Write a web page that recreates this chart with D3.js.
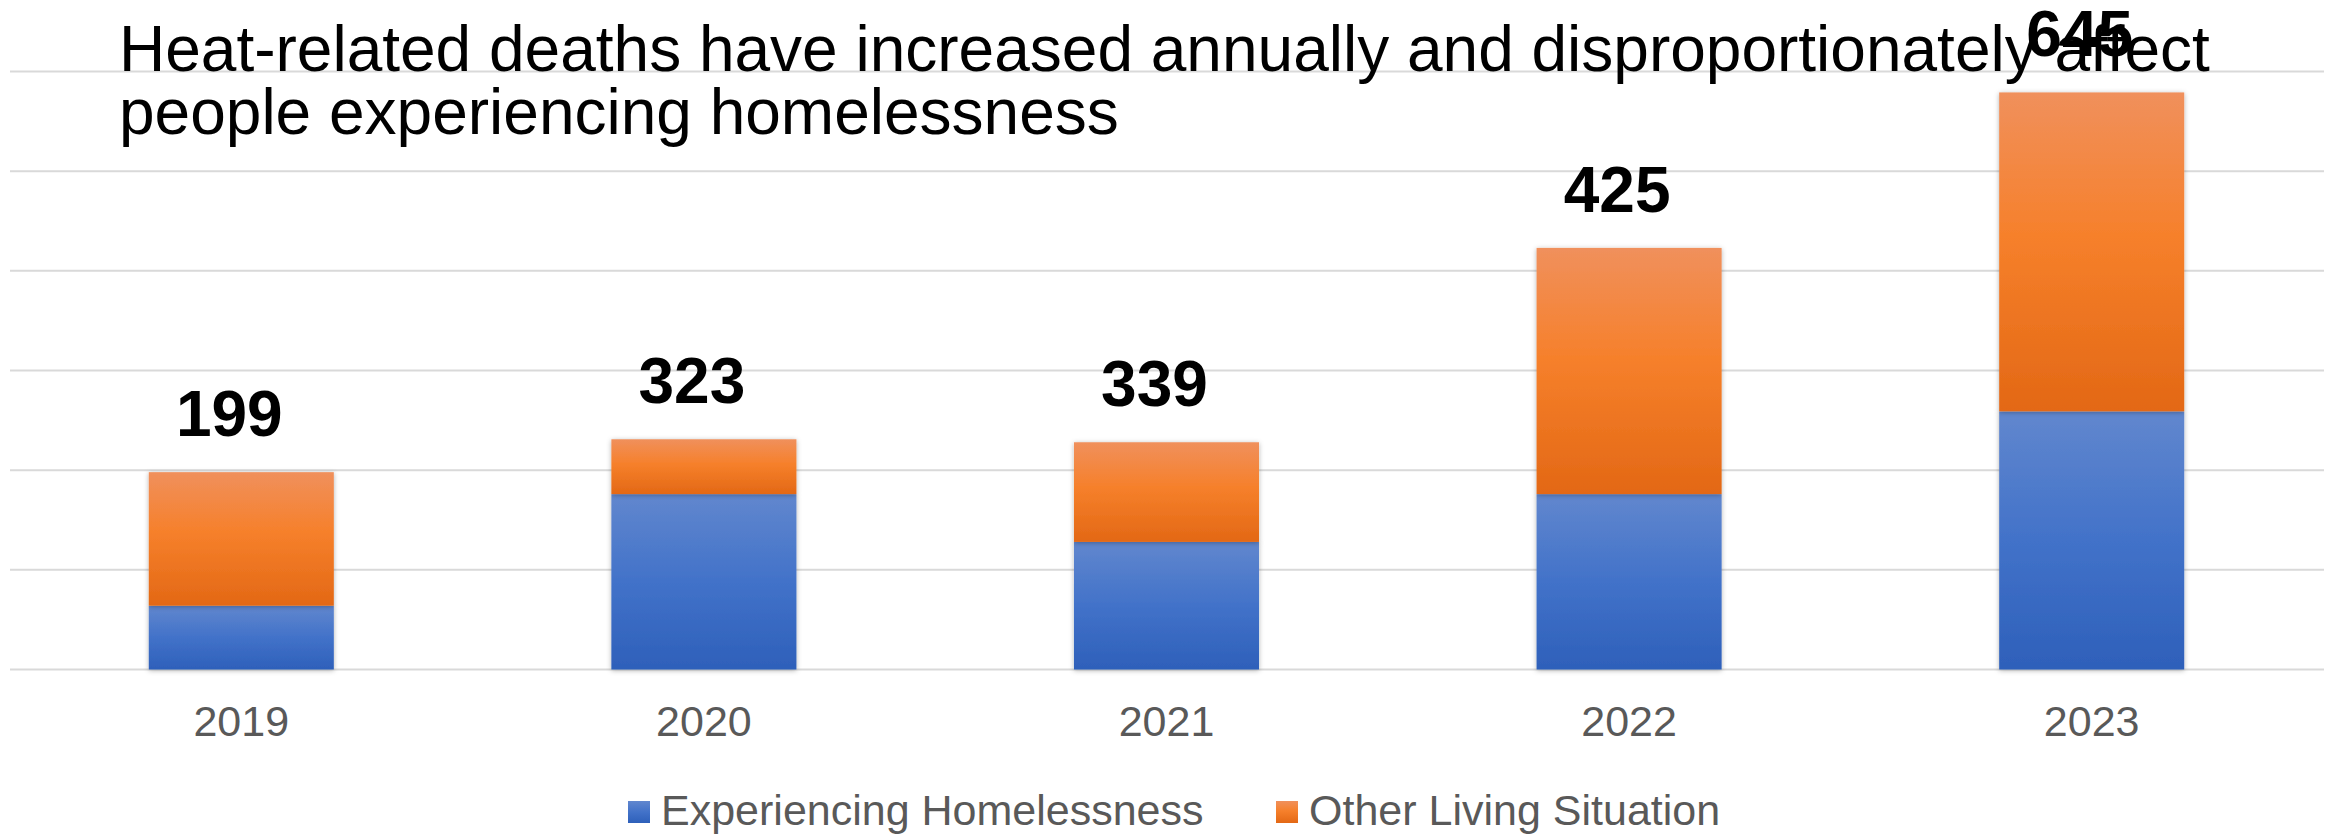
<!DOCTYPE html>
<html>
<head>
<meta charset="utf-8">
<script src="https://cdn.jsdelivr.net/npm/d3@7"></script>
<style>
  body { margin: 0; background: #fff; }
  svg { display: block; font-family: "Liberation Sans", Arial, sans-serif; }
</style>
</head>
<body>
<svg id="chart" width="2336" height="834"></svg>
<script>
// values
const years = ['2019', '2020', '2021', '2022', '2023'];
const homeless = [64, 176, 128, 176, 259];
const other = [134, 55, 100, 247, 320];
const totalLabels = ['199', '323', '339', '425', '645'];
const yTicks = [0, 100, 200, 300, 400, 500, 600];
const seriesNames = ['Experiencing Homelessness', 'Other Living Situation'];
const titleLines = [
  'Heat-related deaths have increased annually and disproportionately affect',
  'people experiencing homelessness'
];

const svg = d3.select('#chart');

const x = d3.scaleBand().domain(years).range([10, 2323]).paddingInner(0.6).paddingOuter(0.3);
const y = d3.scaleLinear().domain([0, 600]).range([669.5, 71.5]);

const defs = svg.append('defs');

// per-segment vertical gradients, like the office chart fill
const grads = {
  homeless: [['0%', '#6187ce'], ['50%', '#4272c9'], ['100%', '#2e60ba']],
  other: [['0%', '#f0905c'], ['45%', '#f6802b'], ['100%', '#e36815']]
};
Object.entries(grads).forEach(([key, stops]) => {
  const g = defs.append('linearGradient').attr('id', 'grad-' + key)
    .attr('x1', 0).attr('y1', 0).attr('x2', 0).attr('y2', 1);
  stops.forEach(s => g.append('stop').attr('offset', s[0]).attr('stop-color', s[1]));
});

defs.append('filter').attr('id', 'shadow').attr('x', '-10%').attr('y', '-10%').attr('width', '120%').attr('height', '120%')
  .append('feDropShadow').attr('dx', 0).attr('dy', 1).attr('stdDeviation', 2.5)
  .attr('flood-color', '#000').attr('flood-opacity', 0.3);

// gridlines
svg.append('g').selectAll('line').data(yTicks).enter().append('line')
  .attr('x1', 10).attr('x2', 2324)
  .attr('y1', d => y(d)).attr('y2', d => y(d))
  .attr('stroke', '#d9d9d9').attr('stroke-width', 2);

// stacked bars
const table = years.map((yr, i) => ({ year: yr, homeless: homeless[i], other: other[i] }));
const stacked = d3.stack().keys(['homeless', 'other'])(table);

svg.append('g').selectAll('g').data(stacked).enter().append('g')
  .attr('fill', d => `url(#grad-${d.key})`)
  .selectAll('rect').data(d => d).enter().append('rect')
  .attr('x', d => x(d.data.year))
  .attr('width', x.bandwidth())
  .attr('y', d => y(d[1]))
  .attr('height', d => y(d[0]) - y(d[1]))
  .attr('filter', 'url(#shadow)');

// x axis labels
svg.append('g').selectAll('text').data(years).enter().append('text')
  .attr('x', d => x(d) + x.bandwidth() / 2)
  .attr('y', 736)
  .attr('text-anchor', 'middle')
  .style('font-size', '43px')
  .style('fill', '#595959')
  .text(d => d);

// title
const title = svg.append('text').style('font-size', '64px').style('fill', '#000');
titleLines.forEach((line, i) => {
  title.append('tspan').attr('x', 119).attr('y', 71 + i * 63).text(line);
});

// totals above bars
svg.append('g').selectAll('text').data(table).enter().append('text')
  .attr('x', d => x(d.year) + x.bandwidth() / 2 - 12)
  .attr('y', d => y(d.homeless + d.other) - 36)
  .attr('text-anchor', 'middle')
  .style('font-size', '64px')
  .style('font-weight', 'bold')
  .style('fill', '#000')
  .text((d, i) => totalLabels[i]);

// legend
const legendX = [628, 1276];
const legend = svg.append('g').selectAll('g').data(seriesNames).enter().append('g')
  .attr('transform', (d, i) => `translate(${legendX[i]},801)`);
legend.append('rect').attr('width', 22).attr('height', 22)
  .attr('fill', (d, i) => i === 0 ? 'url(#grad-homeless)' : 'url(#grad-other)');
legend.append('text').attr('x', 33).attr('y', 24)
  .style('font-size', '43px').style('fill', '#595959')
  .text(d => d);
</script>
</body>
</html>
